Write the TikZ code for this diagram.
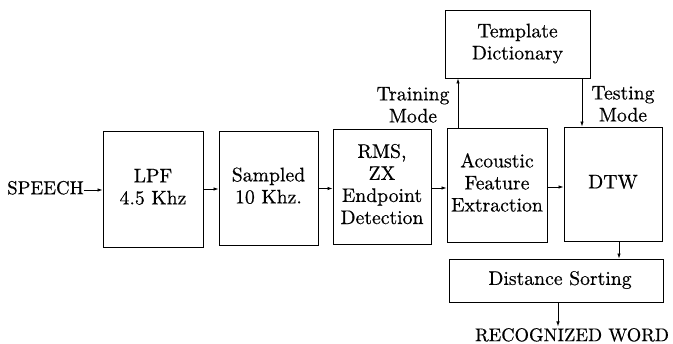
\documentclass[tikz,border=0pt]{standalone}
\usepackage{fontspec}
\setmainfont{Latin Modern Roman}[FakeBold=0.5]
\usetikzlibrary{arrows.meta}
\newcommand{\txt}[2][1.97]{\scalebox{#1}{\fontsize{10}{11.2}\selectfont\addfontfeatures{FakeBold=0.5}\begin{tabular}{@{}c@{}}#2\end{tabular}}}
\begin{document}
\begin{tikzpicture}[x=1pt,y=-1pt,
  blk/.style={draw,line width=0.9pt,rectangle,align=center,inner sep=0pt},
  lbl/.style={align=center,inner sep=0pt},
  conn/.style={line width=0.8pt,-{Latex[length=5pt,width=3.5pt]}}]
\useasboundingbox (0,0) rectangle (673,344);
\node[blk,minimum width=100pt,minimum height=116pt] (lpf) at (153,189) {\txt{LPF\\4.5 Khz}};
\node[blk,minimum width=99pt,minimum height=114pt] (samp) at (268.5,188) {\txt{Sampled\\10 Khz.}};
\node[blk,minimum width=98pt,minimum height=115pt] (rms) at (382,186.5) {\txt{RMS,\\ZX\\Endpoint\\Detection}};
\node[blk,minimum width=100pt,minimum height=114pt] (acou) at (497,185) {\txt{Acoustic\\Feature\\Extraction}};
\node[blk,minimum width=98pt,minimum height=114pt] (dtw) at (613,184) {\txt{DTW}};
\node[blk,minimum width=145pt,minimum height=68pt] (tmpl) at (517.5,44) {\txt{Template\\Dictionary}};
\node[blk,minimum width=214pt,minimum height=43pt] (dist) at (556,280.5) {\hspace*{8pt}\txt{Distance Sorting}};
\node[lbl,anchor=west] (speech) at (7,190) {\txt[1.88]{SPEECH}};
\node[lbl,anchor=north] (rec) at (572,326.5) {\txt[1.85]{RECOGNIZED WORD}};
\node[lbl] (train) at (413,107) {\txt{Training\\Mode}};
\node[lbl] (test) at (623,106) {\txt{Testing\\Mode}};
\coordinate (a1) at (458,0);
\coordinate (a2) at (582,0);
\coordinate (a3) at (619,0);
\coordinate (a4) at (558,0);
\draw[conn] (speech.east) -- (lpf.west |- speech.east);
\draw[conn] (lpf.east |- 0,189) -- (samp.west |- 0,189);
\draw[conn] (samp.east |- 0,188.5) -- (rms.west |- 0,188.5);
\draw[conn] (rms.east |- 0,188) -- (acou.west |- 0,188);
\draw[conn] (acou.east |- 0,187) -- (dtw.west |- 0,187);
\draw[conn] (acou.north -| a1) -- (tmpl.south -| a1);
\draw[conn] (tmpl.south -| a2) -- (dtw.north -| a2);
\draw[conn] (dtw.south -| a3) -- (dist.north -| a3);
\draw[conn] (dist.south -| a4) -- (rec.north -| a4);
\end{tikzpicture}
\end{document}
